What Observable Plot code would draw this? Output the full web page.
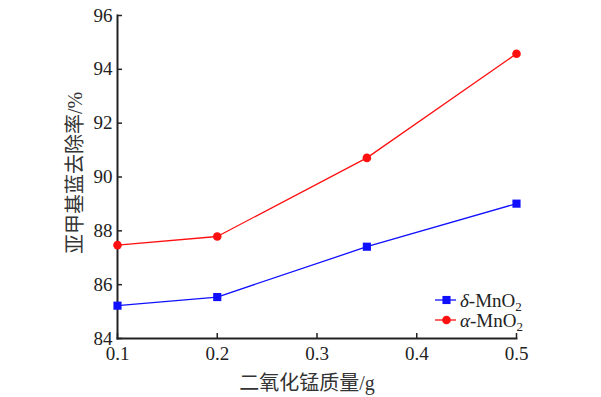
<!DOCTYPE html>
<html>
<head>
<meta charset="utf-8">
<script src="https://cdn.jsdelivr.net/npm/d3@7"></script>
<script src="https://cdn.jsdelivr.net/npm/@observablehq/plot@0.6"></script>
<style>
  html, body { margin: 0; padding: 0; background: #fff; }
  #chart { width: 601px; height: 397px; }
</style>
</head>
<body>
<div id="chart"></div>
<script>
const masses = [0.1, 0.2, 0.35, 0.5];
const deltaMnO2 = [85.22, 85.54, 87.41, 89.01];
const alphaMnO2 = [87.47, 87.79, 90.71, 94.58];
const xTicks = [0.1, 0.2, 0.3, 0.4, 0.5];
const yTicks = [84, 86, 88, 90, 92, 94, 96];
const xLabel = "二氧化锰质量/g";
const yLabel = "亚甲基蓝去除率/%";

const serif = "'Times New Roman', 'Liberation Serif', Times, 'DejaVu Serif', serif, 'Noto Sans CJK SC'";

const deltaData = masses.map((m, i) => ({m, v: deltaMnO2[i]}));
const alphaData = masses.map((m, i) => ({m, v: alphaMnO2[i]}));

const plot = Plot.plot({
  width: 601,
  height: 397,
  marginLeft: 117,
  marginRight: 85,
  marginTop: 15,
  marginBottom: 59,
  x: {domain: [0.1, 0.5]},
  y: {domain: [84, 96]},
  marks: [
    Plot.axisX({ticks: xTicks, tickFormat: d => String(d), tickSize: -5, tickPadding: 13, label: null, stroke: "#222", strokeWidth: 1.5, fill: "#222", fontFamily: serif, fontSize: 19}),
    Plot.axisY({ticks: yTicks, tickFormat: d => String(d), tickSize: -5, tickPadding: 10, label: null, stroke: "#222", strokeWidth: 1.5, fill: "#222", fontFamily: serif, fontSize: 19}),
    Plot.frame({anchor: "left", stroke: "#222", strokeWidth: 2}),
    Plot.frame({anchor: "bottom", stroke: "#222", strokeWidth: 2}),
    Plot.line(deltaData, {x: "m", y: "v", stroke: "#1010ff", strokeWidth: 1.3}),
    Plot.line(alphaData, {x: "m", y: "v", stroke: "#ff1010", strokeWidth: 1.3}),
    Plot.dot(deltaData, {x: "m", y: "v", symbol: "square", r: 4.6, fill: "#1010ff", stroke: "none"}),
    Plot.dot(alphaData, {x: "m", y: "v", symbol: "circle", r: 4.3, fill: "#ff1010", stroke: "none"}),
    Plot.text([xLabel], {text: d => d, frameAnchor: "bottom", textAnchor: "middle", lineAnchor: "middle", dy: 45, dx: -10, fontSize: 20, fill: "#333", fontFamily: serif}),
    Plot.text([yLabel], {text: d => d, frameAnchor: "left", textAnchor: "middle", lineAnchor: "middle", dx: -42, dy: -4, rotate: -90, fontSize: 20, fill: "#333", fontFamily: serif})
  ]
});

document.getElementById("chart").appendChild(plot);

// Legend (inside plot area, lower right)
const legendItems = [
  {greek: "δ", color: "#1010ff", symbol: d3.symbolSquare, size: 66},
  {greek: "α", color: "#ff1010", symbol: d3.symbolCircle, size: 58}
];
const svg = d3.select(plot);
const lg = svg.append("g").attr("transform", "translate(435,300)");
legendItems.forEach((it, i) => {
  const g = lg.append("g").attr("transform", `translate(0,${i * 20})`);
  g.append("line").attr("x1", 0).attr("x2", 21).attr("y1", 0).attr("y2", 0)
    .attr("stroke", it.color).attr("stroke-width", 1.3);
  g.append("path").attr("d", d3.symbol(it.symbol, it.size)()).attr("transform", "translate(11.5,0)")
    .attr("fill", it.color);
  const t = g.append("text").attr("x", 25).attr("y", 0).attr("dy", "0.35em")
    .attr("text-anchor", "start")
    .attr("font-family", serif).attr("font-size", 19).attr("fill", "#222");
  t.append("tspan").attr("font-style", "italic").text(it.greek);
  t.append("tspan").text("-MnO");
  t.append("tspan").attr("font-size", 13).attr("dy", "0.3em").text("2");
});
</script>
</body>
</html>
